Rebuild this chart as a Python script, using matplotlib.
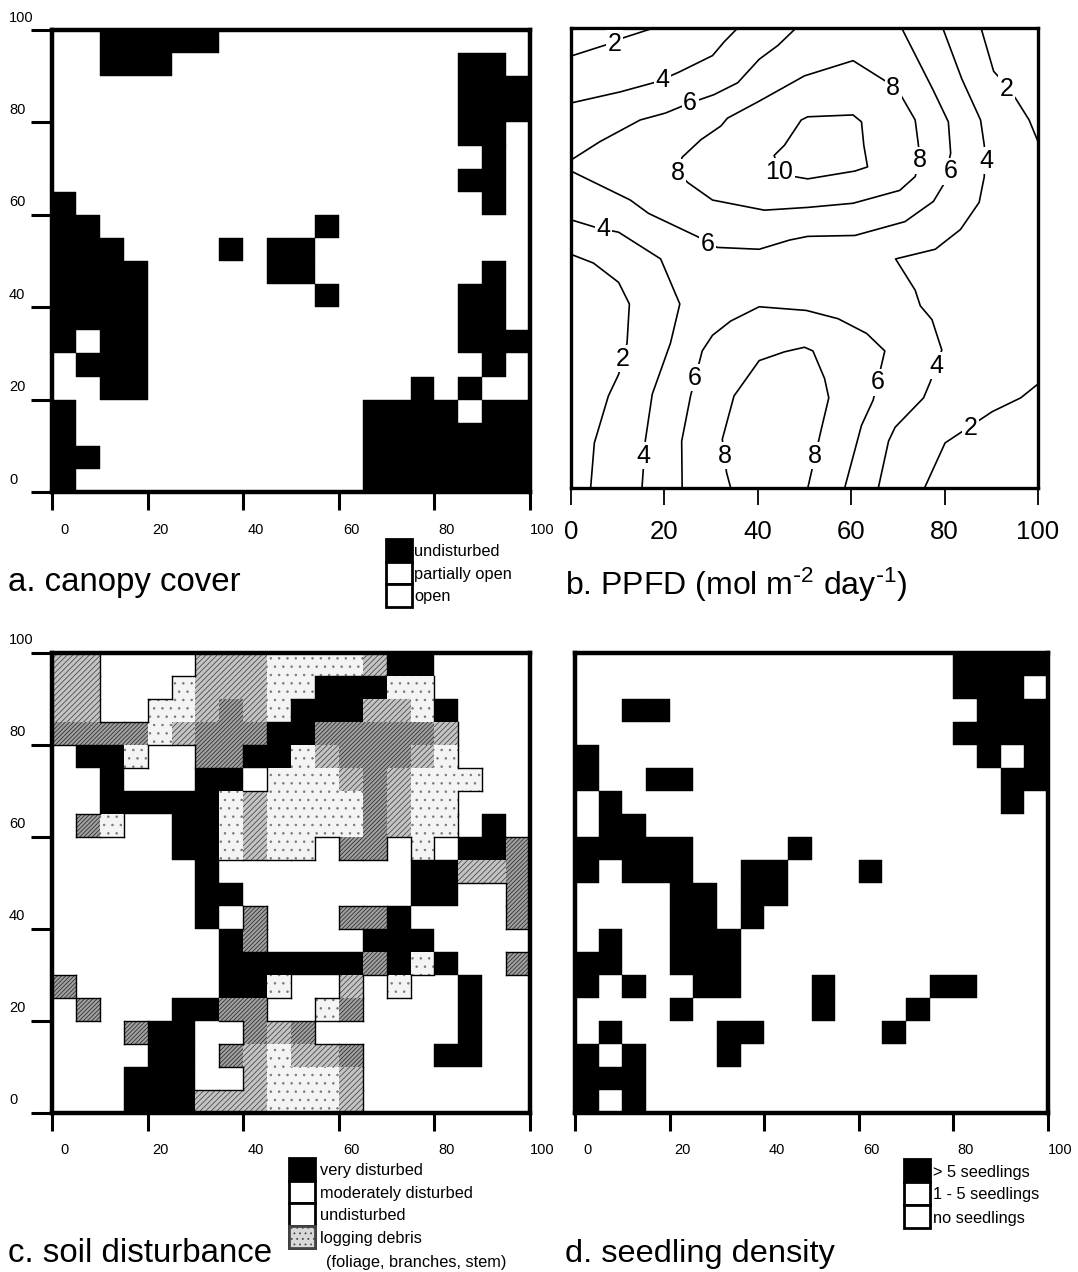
import matplotlib
matplotlib.use('Agg')
import matplotlib.pyplot as plt
from matplotlib.patches import Rectangle

W, H = 1078, 1272

plt.rcParams['font.family'] = ['Liberation Sans', 'DejaVu Sans']
plt.rcParams['mathtext.default'] = 'regular'
plt.rcParams['hatch.linewidth'] = 0.55

tick_values = [0, 20, 40, 60, 80, 100]
tick_labels = ['0', '20', '40', '60', '80', '100']

# rows run from top (95-100) to bottom (0-5), each char is a 5x5 m cell
canopy = [
    "..#####.............",
    "..###............##.",
    ".................###",
    ".................###",
    ".................##.",
    "..................#.",
    ".................##.",
    "#.................#.",
    "##.........#........",
    "###....#.##.........",
    "####.....##.......#.",
    "####.......#.....##.",
    "####.............##.",
    "#.##.............###",
    ".###..............#.",
    "..##...........#.#..",
    "#............####.##",
    "#............#######",
    "##...........#######",
    "#............#######",
]

# d/m/l = logging debris, dense to light
soil = [
    "mm....mmmllllm##....",
    "mm...lmmmll###ll....",
    "mm..llmdml###mml#...",
    "ddddlmddd##dddddm...",
    ".##l..dd##lmdddml...",
    "..#...##.lllmdmlll..",
    "..#####lmlllldmll...",
    ".dl..##lmlllldmll.#.",
    ".....##lmll.dd.l.##d",
    "......#........##mmd",
    "......##.......##..d",
    "......#.d...dd#....d",
    ".......#d....###....",
    ".......######d#l#..d",
    "d......##l..m.l..#..",
    ".d...##dd..ld....#..",
    "...d##..dmd......#..",
    "....##.dmlmmd...##..",
    "...###..mlllm.......",
    "...###mmmlllm.......",
]

seedlings = [
    "................####",
    "................###.",
    "..##.............###",
    "................####",
    "#................#.#",
    "#..##.............##",
    ".#................#.",
    ".##.................",
    "#####....#..........",
    "#.###..##...#.......",
    "....##.##...........",
    "....##.#............",
    ".#..###.............",
    "##..###.............",
    "#.#..##...#....##...",
    "....#.....#...#.....",
    ".#....##.....#......",
    "#.#...#.............",
    "###.................",
    "#.#.................",
]

# PPFD isolines
ppfd_lines = [
    [(0, 93.9), (7.7, 96.4), (11.3, 97.9), (17.7, 100)],
    [(0, 83.7), (10.5, 86.1), (18.4, 88.3), (23.1, 90.4), (30.3, 94), (32.8, 97), (35.7, 100)],
    [(0, 71.3), (6.2, 75.3), (14.8, 80), (20.2, 81.5), (25.5, 83.7), (30.6, 85.5), (35.7, 88.1),
     (40.3, 93.2), (44.3, 96.2), (48.2, 100)],
    [(22.9, 68.5), (23.8, 71.9), (27.8, 75.7), (32.1, 78.7), (33.5, 80.4), (40.3, 84.1), (50, 89.6),
     (60.4, 92.9), (67.6, 88.3), (70.8, 85.1), (73.7, 80), (74.4, 74.5), (74.6, 71.2), (73.7, 67.7),
     (70.4, 64.7), (60.4, 61.9), (50.7, 61), (41.4, 60.4), (30.3, 62.6), (25, 66.4), (22.9, 68.5)],
    [(44.6, 68.8), (43.5, 72.3), (45.7, 74.5), (49.3, 80), (50.7, 80.7), (60.4, 81.1), (62.2, 79.6),
     (62.7, 74.5), (63.5, 69.8), (60.8, 68.9), (50.7, 67.2), (47.8, 67.7), (44.6, 68.8)],
    [(0, 68.9), (12.7, 62.6), (16.6, 59.7), (27.4, 54.5), (31.3, 52.3), (40.3, 51.9), (46.8, 53.9),
     (50.7, 54.7), (60.8, 54.9), (71.5, 57.9), (77.6, 62.3), (79.8, 66), (81.3, 72.8), (80.8, 79.6),
     (77.6, 86.4), (74.4, 92.8), (70.8, 100)],
    [(79.6, 100), (83.7, 88.9), (87.7, 80), (88.5, 74.5), (88.5, 67.7), (87.4, 62.1), (83.4, 56.2),
     (78, 51.9), (69.5, 49.8), (73.7, 43), (74.8, 39.6), (77.3, 36.6), (79.4, 30), (76.9, 23),
     (75.5, 19.6), (69.4, 13.2), (68, 10.2), (65.8, 0)],
    [(87.8, 100), (90.5, 90.6), (92, 88.9), (95.2, 84.7), (98.1, 80), (100, 75.3)],
    [(100, 22.6), (96.3, 19.6), (90.2, 16.6), (80.1, 9.8), (75.7, 0)],
    [(0, 58.3), (5.5, 56.6), (10.2, 55.6), (19.2, 49.8), (23.3, 40), (21.3, 31.5), (17.4, 20.4),
     (15.9, 10.2), (15.2, 0)],
    [(0, 50.8), (4.8, 48.9), (10.2, 44.7), (12.5, 40), (12, 31.5), (10.2, 24.7), (8, 20), (5, 9.8),
     (4.2, 0)],
    [(23.8, 0), (23.7, 10.2), (25.6, 20), (28.1, 29.8), (30.3, 33.2), (34.2, 36.3), (40.3, 39.4),
     (50.4, 38.6), (57.2, 36.8), (63.3, 33.6), (67.2, 29.8), (64.7, 19.1), (62.2, 13.6), (58.6, 0)],
    [(34.2, 0), (33.3, 3.4), (32.4, 10.6), (34.9, 20), (40.3, 27.7), (45.7, 29.6), (50, 30.6),
     (51.8, 29.8), (54.3, 23.8), (55.2, 19.6), (53.6, 12.8), (50.7, 0)],
]
ppfd_labels = [
    ('2', 9.3, 96.6), ('4', 19.5, 88.7), ('6', 25.5, 83.7), ('8', 69, 87), ('8', 74.6, 71.2),
    ('8', 22.9, 68.5), ('10', 44.6, 68.8), ('2', 93.3, 86.8), ('4', 88.9, 71.1), ('6', 81.3, 68.9),
    ('4', 7, 56.2), ('6', 29.3, 53), ('2', 11.1, 28.1), ('6', 26.5, 24), ('6', 65.6, 23),
    ('4', 78.3, 26.6), ('2', 85.5, 13), ('4', 15.6, 7), ('8', 32.9, 7), ('8', 52.3, 7),
]

canopy_legend = ['undisturbed', 'partially open', 'open']
soil_legend = ['very disturbed', 'moderately disturbed', 'undisturbed', 'logging debris',
               '(foliage, branches, stem)']
seedling_legend = ['> 5 seedlings', '1 - 5 seedlings', 'no seedlings']

debris_style = {
    'd': ('#a0a0a0', '#2a2a2a', '////////'),
    'm': ('#c4c4c4', '#444444', '//////'),
    'l': ('#f4f4f4', '#777777', '..'),
}


def make_axes(fig, left, top, right, bottom):
    ax = fig.add_axes([left / W, 1 - bottom / H, (right - left) / W, (bottom - top) / H])
    ax.set_xlim(0, 100)
    ax.set_ylim(0, 100)
    return ax


def draw_cells(ax, rows):
    for r, row in enumerate(rows):
        y = 95 - r * 5
        for c, cell in enumerate(row):
            x = c * 5
            if cell == '#':
                ax.add_patch(Rectangle((x, y), 5, 5, facecolor='black', edgecolor='black', lw=0.3))
            elif cell in debris_style:
                face, hatch_col, hatch = debris_style[cell]
                ax.add_patch(Rectangle((x, y), 5, 5, facecolor=face, edgecolor=hatch_col, hatch=hatch, lw=0))


def debris_outline(ax, rows):
    # thin line wherever debris meets an empty cell
    for r, row in enumerate(rows):
        y = 95 - r * 5
        for c, cell in enumerate(row):
            if cell not in debris_style:
                continue
            x = c * 5
            if r > 0 and rows[r - 1][c] == '.':
                ax.plot([x, x + 5], [y + 5, y + 5], color='black', lw=1)
            if r < 19 and rows[r + 1][c] == '.':
                ax.plot([x, x + 5], [y, y], color='black', lw=1)
            if c > 0 and row[c - 1] == '.':
                ax.plot([x, x], [y, y + 5], color='black', lw=1)
            if c < 19 and row[c + 1] == '.':
                ax.plot([x + 5, x + 5], [y, y + 5], color='black', lw=1)


def style_grid_axes(ax, with_y):
    for s in ax.spines.values():
        s.set_linewidth(3.2)
    ax.set_xticks(tick_values)
    ax.set_xticklabels([])
    ax.tick_params(axis='x', length=13, width=2.2, color='black')
    if with_y:
        ax.set_yticks(tick_values)
        ax.set_yticklabels([])
        ax.tick_params(axis='y', length=15, width=2.2, color='black')
    else:
        ax.set_yticks([])
    for v, lab in zip(tick_values, tick_labels):
        ax.annotate(lab, (v, 0), xytext=(9, -27), textcoords='offset points', ha='center', va='center',
                    fontsize=10.5, annotation_clip=False)
        if with_y:
            ax.annotate(lab, (0, v), xytext=(-31, 9), textcoords='offset points', ha='left', va='center',
                        fontsize=10.5, annotation_clip=False)


def legend_block(bg, x0, x1, y0, step, labels, text_x, first_filled=True):
    for i, lab in enumerate(labels):
        y = y0 + i * step
        face = 'black' if (i == 0 and first_filled) else 'white'
        bg.add_patch(Rectangle((x0, y), x1 - x0, step, facecolor=face, edgecolor='black', lw=2))
        bg.text(text_x, y + step / 2 + 1.5, lab, ha='left', va='center', fontsize=11.8)


fig = plt.figure(figsize=(W / 100, H / 100), dpi=100)
bg = fig.add_axes([0, 0, 1, 1])
bg.set_xlim(0, W)
bg.set_ylim(H, 0)
bg.axis('off')

# a. canopy cover
ax_a = make_axes(fig, 52, 30, 530, 492)
draw_cells(ax_a, canopy)
style_grid_axes(ax_a, True)

# b. PPFD contours
ax_b = make_axes(fig, 571, 28, 1038, 488)
for line in ppfd_lines:
    ax_b.plot([p[0] for p in line], [p[1] for p in line], color='black', lw=1.2, zorder=2)
for lab, x, y in ppfd_labels:
    ax_b.text(x, y, lab, ha='center', va='center', fontsize=18, zorder=3,
              bbox=dict(facecolor='white', edgecolor='none', pad=1))
for s in ax_b.spines.values():
    s.set_linewidth(2.4)
ax_b.set_yticks([])
ax_b.set_xticks(tick_values)
ax_b.set_xticklabels(tick_labels, fontsize=18.5)
ax_b.tick_params(axis='x', length=12, width=1.3, pad=11)

# c. soil disturbance
ax_c = make_axes(fig, 52, 653, 530, 1113)
draw_cells(ax_c, soil)
debris_outline(ax_c, soil)
style_grid_axes(ax_c, True)

# d. seedling density
ax_d = make_axes(fig, 575, 653, 1048, 1113)
draw_cells(ax_d, seedlings)
style_grid_axes(ax_d, False)

# legends
legend_block(bg, 386, 412, 539, 22.5, canopy_legend, 414)
legend_block(bg, 289, 315, 1158, 22.5, soil_legend[:4], 320)
bg.add_patch(Rectangle((289, 1225.5), 26, 22.5, facecolor='#d8d8d8', edgecolor='#444444', hatch='...', lw=2))
bg.text(326, 1263, soil_legend[4], ha='left', va='center', fontsize=11.8)
legend_block(bg, 904, 930, 1159, 23, seedling_legend, 933)

# captions
bg.text(8, 583, 'a. canopy cover', ha='left', va='center', fontsize=23.8)
bg.text(565, 585, r'b. PPFD (mol m$^{\text{-}2}$ day$^{\text{-}1}$)', ha='left', va='center', fontsize=23)
bg.text(8, 1254, 'c. soil disturbance', ha='left', va='center', fontsize=23.8)
bg.text(565, 1254, 'd. seedling density', ha='left', va='center', fontsize=23.4)

fig.savefig('out.png', dpi=100)
